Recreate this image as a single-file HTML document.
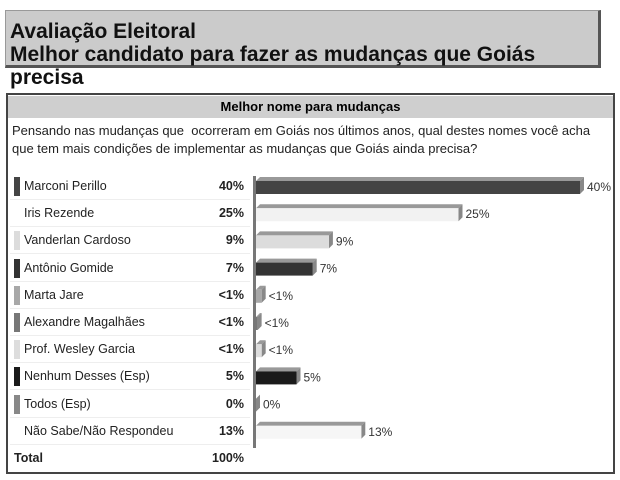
<!DOCTYPE html>
<html><head><meta charset="utf-8"><style>
body{margin:0;width:620px;height:480px;background:#fff;font-family:"Liberation Sans",sans-serif;position:relative;overflow:hidden}
#title{position:absolute;left:5px;top:10px;width:592px;height:54px;background:#cbcbcb;border-right:3px solid #555;border-bottom:3px solid #555;border-top:1px solid #999;border-left:1px solid #999}
#title div{font-weight:bold;font-size:21px;color:#111;margin-left:4px;line-height:23px}
#title div:first-child{margin-top:9px}
#box{position:absolute;left:6px;top:93px;width:605px;height:377px;border:2px solid #444;background:#fff}
#hdr{position:absolute;left:0;top:1px;width:605px;height:22px;background:#cfcfcf;text-align:center;font-weight:bold;font-size:13px;line-height:22px}
#q{position:absolute;left:4px;top:27px;font-size:13px;line-height:18px;color:#222}
.row{position:absolute;left:2px;width:240px;height:26px;border-bottom:1px solid #eee;font-size:12.5px;color:#222}
.sw{position:absolute;left:4px;top:4px;width:6px;height:19px}
.nm{position:absolute;left:14px;top:6px}
.pc{position:absolute;right:6px;top:6px;font-weight:bold}
</style></head><body>
<div id="title"><div>Avaliação Eleitoral</div><div>Melhor candidato para fazer as mudanças que Goiás precisa</div></div>
<div id="box">
<div id="hdr">Melhor nome para mudanças</div>
<div id="q">Pensando nas mudanças que &nbsp;ocorreram em Goiás nos últimos anos, qual destes nomes você acha<br>que tem mais condições de implementar as mudanças que Goiás ainda precisa?</div>
<div id="rows"></div>
<svg id="chart" width="605" height="377" style="position:absolute;left:0;top:0"></svg>
</div>
<script>
const categories=["Marconi Perillo","Iris Rezende","Vanderlan Cardoso","Antônio Gomide","Marta Jare","Alexandre Magalhães","Prof. Wesley Garcia","Nenhum Desses (Esp)","Todos (Esp)","Não Sabe/Não Respondeu"];
const values=[40,25,9,7,0.7,0.2,0.7,5,0,13];
const labels=["40%","25%","9%","7%","<1%","<1%","<1%","5%","0%","13%"];
const colors=["#444","#f2f2f2","#dcdcdc","#333","#a8a8a8","#777","#ddd","#1a1a1a","#888","#f6f6f6"];
const rowTop=78,pitch=27.2,x0=248,k=8.1;
const xs=v=>x0+v*k;
const rows=document.getElementById('rows'),svg=document.getElementById('chart'),NS="http://www.w3.org/2000/svg";
function mk(t,a){const e=document.createElementNS(NS,t);for(const p in a)e.setAttribute(p,a[p]);return e;}
const ax=mk('rect',{x:x0-3,y:rowTop+3,width:3,height:pitch*10,fill:'#777'});


svg.appendChild(ax);
categories.forEach((c,i)=>{
 const y=rowTop+i*pitch;
 const r=document.createElement('div');r.className='row';r.style.top=y+'px';
 
 
 const sw=(colors[i].startsWith('#f'))?'':`<div class="sw" style="background:${colors[i]}"></div>`;
 r.innerHTML=sw+`<span class="nm">${c}</span><span class="pc">${labels[i]}</span>`;
 rows.appendChild(r);
 const by=y+8,h=13,d=4,w=xs(values[i])-x0;
 const g=mk('g',{});
 
 
 g.appendChild(mk('polygon',{points:`${x0},${by} ${x0+d},${by-d} ${x0+w+d},${by-d} ${x0+w},${by}`,fill:'#999'}));
 g.appendChild(mk('polygon',{points:`${x0+w},${by} ${x0+w+d},${by-d} ${x0+w+d},${by+h-d} ${x0+w},${by+h}`,fill:'#888'}));
 g.appendChild(mk('rect',{x:x0,y:by,width:w,height:h,fill:colors[i]}));
 svg.appendChild(g);
 const t=mk('text',{x:xs(values[i])+d+3,y:by+10,'font-size':12,fill:'#333','font-family':'Liberation Sans'});
 t.textContent=labels[i];
 
 
 svg.appendChild(t);
});
const tr=document.createElement('div');tr.className='row';tr.style.top=(rowTop+10*pitch)+'px';tr.style.borderBottom='none';


tr.innerHTML='<span class="nm" style="left:4px;font-weight:bold">Total</span><span class="pc">100%</span>';
rows.appendChild(tr);
</script>
</body></html>
